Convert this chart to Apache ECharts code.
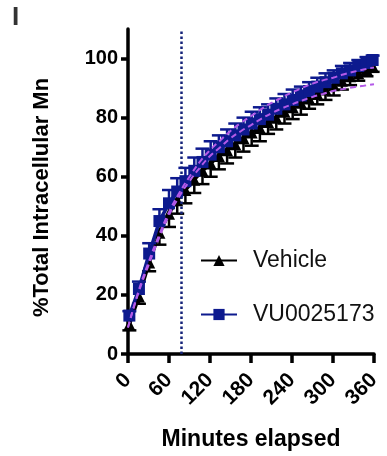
<!DOCTYPE html>
<html>
<head>
<meta charset="utf-8">
<script src="https://cdn.jsdelivr.net/npm/echarts@6/dist/echarts.min.js"></script>
<style>
  html, body { margin: 0; padding: 0; background: #fff; }
  #chart { width: 387px; height: 456px; }
</style>
</head>
<body>
<div id="chart"></div>
<script>
// Sampling times (minutes)
const times = [2, 16, 31, 46, 60, 72, 84, 97, 109, 121, 133, 145, 157, 169, 181,
               193, 205, 217, 229, 241, 253, 265, 277, 289, 301, 313, 325, 337, 349, 358];

// Mean % total intracellular Mn
const vehicleMean = [10, 19.5, 31, 41, 47.5, 52, 55.5, 59, 62, 64.5, 67, 69, 71, 73, 75,
                     76.5, 78.5, 80, 82, 83.5, 85, 86.5, 88, 89.5, 91, 92.5, 94, 95, 96.5, 97.5];
const vuMean = [13, 22, 34, 45, 51, 55, 58.5, 62, 65, 67.5, 70, 72, 74, 76, 78,
                79.5, 81, 83, 84.5, 86, 87.5, 89, 90.5, 92, 93.5, 95, 96, 97.5, 98.5, 99.5];

// SEM
const vehicleErr = [2, 2.5, 3, 4, 4.5, 4.5, 4.5, 4.5, 4.5, 4.5, 4.5, 4.5, 4.5, 4.5, 4.5,
                    4.5, 4, 4, 4, 4, 4, 3.5, 3.5, 3.5, 3.5, 3, 3, 2.5, 2.5, 2];
const vuErr = [1.5, 2.5, 3.5, 4, 4.5, 4.5, 4.5, 4.5, 4.5, 4.5, 4, 4, 4, 4, 4,
               4, 3.5, 3.5, 3.5, 3.5, 3, 3, 3, 3, 2.5, 2.5, 2.5, 2, 2, 1.5];

// Fitted association curves
const fitTimes = [0, 15, 30, 45, 60, 75, 90, 105, 120, 135, 150, 165, 180, 195, 210,
                  225, 240, 255, 270, 285, 300, 315, 330, 345, 360];
const fitUpper = [9, 21, 31, 40, 48, 54.5, 60, 65, 69, 72.3, 75.5, 78.2, 80.5, 82.9, 85,
                  86.8, 88.5, 90.1, 91.5, 92.6, 93.5, 94.6, 95.5, 96.3, 97];
const fitLower = [9, 20.5, 30, 39, 47, 53.3, 58.5, 63, 67, 70, 73, 75.4, 77.5, 79.6, 81.5,
                  83.1, 84.5, 85.8, 87, 88, 89, 89.7, 90.3, 90.8, 91.3];

// Marker line time
const markTime = [78];

const xTicks = [0, 60, 120, 180, 240, 300, 360];
const yTicks = [0, 20, 40, 60, 80, 100];

const BLUE = '#0d1a8e';
const BLACK = '#000000';
const FIT = '#b45ae8';
const FONT = '"Liberation Sans", Arial, sans-serif';

const zip = (a, b) => a.map((v, i) => [v, b[i]]);
const zip3 = (a, b, c) => a.map((v, i) => [v, b[i], c[i]]);

function errorBars(dir, color) {
  return function (params, api) {
    const x = api.value(0), y = api.value(1), e = api.value(2);
    const p0 = api.coord([x, y]);
    const p1 = api.coord([x, y + dir * e]);
    const hw = 7;
    const style = { stroke: color, lineWidth: 2.5 };
    return {
      type: 'group',
      children: [
        { type: 'line', shape: { x1: p0[0], y1: p0[1], x2: p1[0], y2: p1[1] }, style },
        { type: 'line', shape: { x1: p1[0] - hw, y1: p1[1], x2: p1[0] + hw, y2: p1[1] }, style }
      ]
    };
  };
}

const chart = echarts.init(document.getElementById('chart'));
chart.setOption({
  animation: false,
  backgroundColor: '#fff',
  textStyle: { fontFamily: FONT },
  graphic: [{
    type: 'text', left: 12, top: 5,
    style: { text: 'I', font: 'bold 26px ' + FONT, fill: '#333' }
  }],
  grid: { left: 128, right: 13, top: 29, bottom: 102, containLabel: false },
  legend: {
    data: ['Vehicle', 'VU0025173'],
    orient: 'vertical',
    left: 195, top: 244,
    itemGap: 31,
    itemWidth: 36, itemHeight: 14,
    textStyle: { fontSize: 23, color: '#111', fontFamily: FONT, padding: [0, 0, 0, 11] },
  },
  xAxis: {
    type: 'value', min: 0, max: 360, interval: 60,
    name: 'Minutes elapsed', nameLocation: 'middle', nameGap: 74,
    nameTextStyle: { fontSize: 23, fontWeight: 'bold', color: '#000' },
    axisLine: { lineStyle: { color: '#000', width: 3.5 } },
    axisTick: { length: 9, lineStyle: { color: '#000', width: 3.5 } },
    axisLabel: { rotate: 45, fontSize: 21, fontWeight: 'bold', color: '#000', margin: 23 },
    splitLine: { show: false }
  },
  yAxis: {
    type: 'value', min: 0, max: 110, interval: 20,
    name: '%Total Intracellular Mn', nameLocation: 'middle', nameGap: 75,
    nameTextStyle: { fontSize: 22, fontWeight: 'bold', color: '#000', padding: [0, 12, 0, 0] },
    axisLine: { show: true, lineStyle: { color: '#000', width: 3.5 } },
    axisTick: { show: true, length: 7, lineStyle: { color: '#000', width: 3.5 }, customValues: yTicks },
    axisLabel: { fontSize: 20, fontWeight: 'bold', color: '#000', margin: 10, customValues: yTicks },
    splitLine: { show: false }
  },
  series: [
    {
      name: 'VehicleErr', type: 'custom', renderItem: errorBars(-1, BLACK),
      data: zip3(times, vehicleMean, vehicleErr), z: 2, silent: true
    },
    {
      name: 'Vehicle', type: 'line', data: zip(times, vehicleMean),
      symbol: 'triangle', symbolSize: 12,
      itemStyle: { color: BLACK }, lineStyle: { color: BLACK, width: 3.5 }, z: 3,
      markLine: {
        silent: true, symbol: 'none', label: { show: false },
        lineStyle: { color: '#14237a', type: 'dotted', width: 2.5 },
        data: [{ xAxis: markTime[0] }]
      }
    },
    {
      name: 'VUErr', type: 'custom', renderItem: errorBars(1, BLUE),
      data: zip3(times, vuMean, vuErr), z: 4, silent: true
    },
    {
      name: 'VU0025173', type: 'line', data: zip(times, vuMean),
      symbol: 'rect', symbolSize: 12,
      itemStyle: { color: BLUE }, lineStyle: { color: BLUE, width: 3.5 }, z: 5
    },
    {
      name: 'FitUpper', type: 'line', data: zip(fitTimes, fitUpper), smooth: true,
      symbol: 'none', lineStyle: { color: FIT, width: 2, type: [6, 4] }, z: 6
    },
    {
      name: 'FitLower', type: 'line', data: zip(fitTimes, fitLower), smooth: true,
      symbol: 'none', lineStyle: { color: FIT, width: 2, type: [6, 4] }, z: 6
    }
  ]
});
</script>
</body>
</html>
